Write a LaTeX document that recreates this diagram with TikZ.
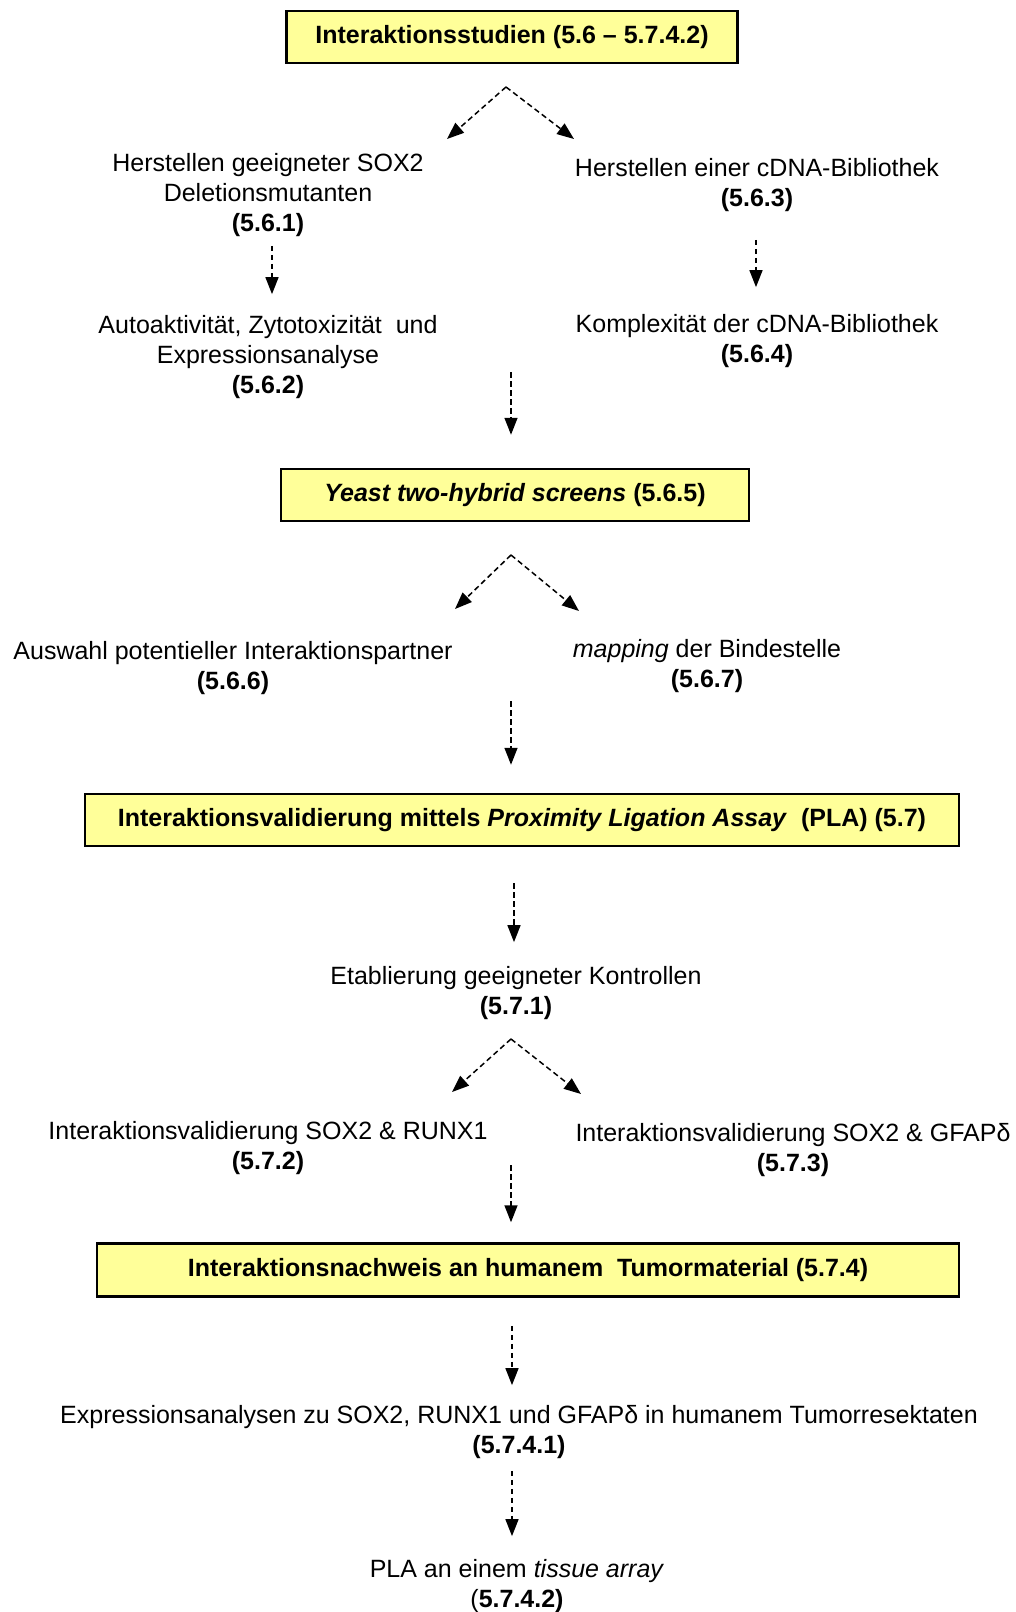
\documentclass[tikz,border=0pt]{standalone}
\usepackage{fontspec}
\setmainfont{Liberation Sans}
\usetikzlibrary{arrows.meta}
\definecolor{boxyellow}{HTML}{FFFF99}

\begin{document}
\begin{tikzpicture}[x=1pt,y=-1pt,
  every node/.style={font=\fontsize{25}{30}\selectfont, align=center, inner sep=0pt},
  stage/.style={draw=black, line width=2.5pt, fill=boxyellow, font=\fontsize{25}{30}\selectfont\bfseries, minimum height=52pt},
  flow/.style={dash pattern=on 5.5pt off 3.5pt, line width=1.5pt, -{Triangle[length=17pt,width=13pt]}}]
\useasboundingbox (0,0) rectangle (1016,1612);

% stages
\node[stage, minimum width=451pt] (studien) at (512,37) {Interaktionsstudien (5.6 – 5.7.4.2)};
\node[stage, minimum width=468pt] (hybrid) at (515,495) {\textit{Yeast two-hybrid screens} (5.6.5)};
\node[stage, minimum width=874pt] (pla) at (522,820) {Interaktionsvalidierung mittels \textit{Proximity Ligation Assay}\ \ (PLA) (5.7)};
\node[stage, minimum width=862pt, minimum height=53pt] (tumor) at (528,1270) {Interaktionsnachweis an humanem\ \ Tumormaterial (5.7.4)};

% steps
\node (herst) at (268,195) {Herstellen geeigneter SOX2\\Deletionsmutanten\\\textbf{(5.6.1)}};
\node (cdna) at (757,185) {Herstellen einer cDNA-Bibliothek\\\textbf{(5.6.3)}};
\node (auto) at (268,357) {Autoaktivität, Zytotoxizität\ \ und\\Expressionsanalyse\\\textbf{(5.6.2)}};
\node (kompl) at (757,341) {Komplexität der cDNA-Bibliothek\\\textbf{(5.6.4)}};
\node (auswahl) at (233,668) {Auswahl potentieller Interaktionspartner\\\textbf{(5.6.6)}};
\node (mapping) at (707,666) {\textit{mapping} der Bindestelle\\\textbf{(5.6.7)}};
\node (kontr) at (516,993) {Etablierung geeigneter Kontrollen\\\textbf{(5.7.1)}};
\node (runx) at (268,1148) {Interaktionsvalidierung SOX2 \& RUNX1\\\textbf{(5.7.2)}};
\node (gfap) at (793,1150) {Interaktionsvalidierung SOX2 \& GFAPδ\\\textbf{(5.7.3)}};
\node (expr) at (519,1432) {Expressionsanalysen zu SOX2,\ RUNX1 und GFAPδ in humanem\ Tumorresektaten\\\textbf{(5.7.4.1)}};
\node (tissue) at (517,1586) {PLA an einem \textit{tissue array}\\(\textbf{5.7.4.2)}};

% forks
\coordinate (apex1) at (506,87);
\coordinate (fork1l) at (447,139);
\coordinate (fork1r) at (574,139);
\coordinate (apex2) at (511,555);
\coordinate (fork2l) at (455,609);
\coordinate (fork2r) at (579,611);
\coordinate (apex3) at (511,1039);
\coordinate (fork3l) at (452,1092);
\coordinate (fork3r) at (581,1094);
\coordinate (go1) at (511,372);
\coordinate (go2) at (511,701);
\coordinate (go3) at (511,1165);

\draw[flow] (apex1) -- (fork1l);
\draw[flow] (apex1) -- (fork1r);
\draw[flow] (apex2) -- (fork2l);
\draw[flow] (apex2) -- (fork2r);
\draw[flow] (apex3) -- (fork3l);
\draw[flow] (apex3) -- (fork3r);

\draw[flow, shorten <=9pt, shorten >=21pt] ([xshift=4pt]herst.south) -- ([xshift=4pt]auto.north);
\draw[flow, shorten <=28pt, shorten >=27pt] ([xshift=-1pt]cdna.south) -- ([xshift=-1pt]kompl.north);
\draw[flow, shorten >=33pt] (go1) -- (go1 |- hybrid.north);
\draw[flow, shorten >=28pt] (go2) -- (go2 |- pla.north);
\draw[flow, shorten <=36pt, shorten >=24pt] ([xshift=-8pt]pla.south) -- ([xshift=-2pt]kontr.north);
\draw[flow, shorten >=20pt] (go3) -- (go3 |- tumor.north);
\draw[flow, shorten <=28pt, shorten >=20pt] ([xshift=-16pt]tumor.south) -- ([xshift=-7pt]expr.north);
\draw[flow, shorten <=12pt, shorten >=23pt] ([xshift=-7pt]expr.south) -- ([xshift=-5pt]tissue.north);

\end{tikzpicture}
\end{document}
